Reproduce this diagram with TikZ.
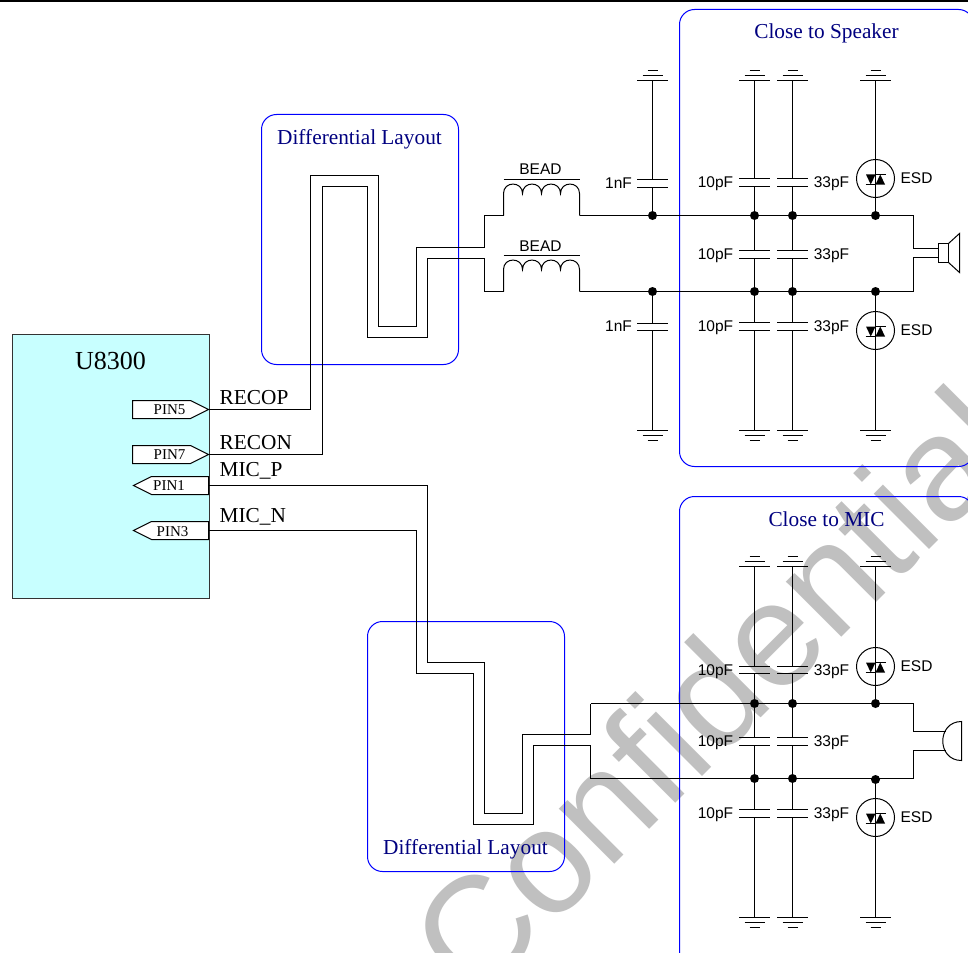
\documentclass[tikz,border=0pt]{standalone}
\usepackage{fontspec}
\setmainfont{Liberation Serif}
\newfontfamily\arialf{Liberation Sans}
\definecolor{navytext}{HTML}{000080}
\definecolor{chipfill}{HTML}{C8FFFF}
\definecolor{wmgray}{HTML}{C0C0C0}
\tikzset{
  wire/.style={draw=black,line width=1pt,line join=miter},
  zonebox/.style={draw=blue,line width=1pt,rounded corners=15pt},
  zonetext/.style={text=navytext,font=\fontsize{21.3}{21.3}\selectfont,inner sep=0pt},
  parttext/.style={text=black,font=\arialf\fontsize{15.5}{15.5}\selectfont,inner sep=0pt},
  nettext/.style={text=black,font=\fontsize{21.3}{21.3}\selectfont,inner sep=0pt,anchor=base west},
  pintext/.style={text=black,font=\fontsize{15}{15}\selectfont,inner sep=0pt},
  pinshape/.style={draw=black,fill=white,line width=1pt,line join=miter},
  junction/.style={circle,fill=black,inner sep=0pt,minimum size=9pt},
}
% plates of a capacitor: x, y1, y2
\newcommand{\capplates}[3]{\draw[wire] (#1-15.5,#2) -- (#1+15.5,#2) (#1-15.5,#3) -- (#1+15.5,#3);}
% ground symbol: x, y of long bar, direction of the shorter bars (+1 down, -1 up)
\newcommand{\gndsym}[3]{\draw[wire] (#1-15.5,#2) -- (#1+15.5,#2) (#1-10,#2+#3*5) -- (#1+10,#2+#3*5) (#1-5,#2+#3*10) -- (#1+5,#2+#3*10);}
% ESD: x, y centre
\newcommand{\esd}[2]{%
  \draw[wire] (#1,#2) circle (19pt);
  \fill[black] (#1-9.5,#2-4) -- (#1,#2-4) -- (#1-4.75,#2+6) -- cycle;
  \fill[black] (#1+9.5,#2+6) -- (#1,#2+6) -- (#1+4.75,#2-4) -- cycle;
  \draw[wire] (#1,#2-4) -- (#1+10,#2-4) (#1-10,#2+6) -- (#1,#2+6);}
% bead: y of bar, y of leg end
\newcommand{\bead}[2]{%
  \draw[wire] (503,#1) -- (579,#1);
  \draw[wire] (503,#2) -- (503,#1+14)
    .. controls (503,#1+1.4) and (522,#1+1.4) .. (522,#1+14)
    .. controls (522,#1+1.4) and (541,#1+1.4) .. (541,#1+14)
    .. controls (541,#1+1.4) and (560,#1+1.4) .. (560,#1+14)
    .. controls (560,#1+1.4) and (579,#1+1.4) .. (579,#1+14) -- (579,#2);}
\begin{document}
\begin{tikzpicture}[x=1pt,y=-1pt]
\useasboundingbox (0,0) rectangle (968,952);
\clip (0,0) rectangle (968,952);
\fill[white] (0,0) rectangle (968,952);
% watermark
\node[text=wmgray,font=\arialf\fontsize{148}{148}\selectfont,rotate=45,anchor=base west,inner sep=0pt] (wm) at (474,1005) {Confidential};
% top rule
\draw[black,line width=2.5pt] (0,1) -- (968,1);
\begin{scope}[xshift=0.5pt,yshift=-0.5pt]
% zones
\draw[zonebox] (261,114) rectangle (458,364);
\draw[zonebox] (367,621) rectangle (564,871);
\draw[zonebox] (679,9) rectangle (973,466);
\draw[zonebox] (679,496) rectangle (973,970);
\node[zonetext] (t1) at (359,139) {Differential Layout};
\node[zonetext] (t2) at (465,849) {Differential Layout};
\node[zonetext] (t3) at (826,33) {Close to Speaker};
\node[zonetext] (t4) at (826,519) {Close to MIC};
% chip
\node[draw=black!80,fill=chipfill,line width=1pt,minimum width=197pt,minimum height=264pt,inner sep=0pt] (chip) at (110,466) {};
\node[font=\fontsize{26}{26}\selectfont,inner sep=0pt] (chipname) at (110,360) {U8300};
% pins
\draw[pinshape] (132,400) -- (190,400) -- (208,409) -- (190,418) -- (132,418) -- cycle;
\draw[pinshape] (132,445) -- (190,445) -- (208,454) -- (190,463) -- (132,463) -- cycle;
\draw[pinshape] (208,476) -- (151,476) -- (133,485) -- (151,494) -- (208,494) -- cycle;
\draw[pinshape] (208,521) -- (151,521) -- (133,530) -- (151,539) -- (208,539) -- cycle;
\node[pintext] (pin5) at (169,409.5) {PIN5};
\node[pintext] (pin7) at (169,454.5) {PIN7};
\node[pintext] (pin1) at (168.5,485.5) {PIN1};
\node[pintext] (pin3) at (172,531) {PIN3};
\coordinate (p5) at (208,409);
\coordinate (p7) at (208,454);
\coordinate (p1) at (208,485);
\coordinate (p3) at (208,530);
\node[nettext] (recop) at (219,404) {RECOP};
\node[nettext] (recon) at (219,449) {RECON};
\node[nettext] (micp) at (219,476) {MIC\_P};
\node[nettext] (micn) at (219,522) {MIC\_N};
% differential wires
\coordinate (b1a) at (503,215);
\coordinate (b2a) at (503,291);
\coordinate (b1b) at (579,215);
\coordinate (b2b) at (579,291);
\draw[wire] (p5) -- (310,409) -- (310,175) -- (378,175) -- (378,326) -- (416,326) -- (416,247) -- (484,247) -- (484,215) -- (b1a);
\draw[wire] (p7) -- (322,454) -- (322,186) -- (367,186) -- (367,337) -- (427,337) -- (427,258) -- (484,258) -- (484,291) -- (b2a);
\draw[wire] (p1) -- (427,485) -- (427,662) -- (484,662) -- (484,813) -- (522,813) -- (522,734) -- (590,734) -- (590,703);
\draw[wire] (p3) -- (416,530) -- (416,673) -- (473,673) -- (473,824) -- (533,824) -- (533,745) -- (590,745) -- (590,778);
% beads
\bead{179}{215}
\bead{255}{291}
\node[parttext] (bead1) at (540,169) {BEAD};
\node[parttext] (bead2) at (540,245.5) {BEAD};
% speaker nets
\draw[wire] (b1b) -- (913,215) -- (913,248) -- (938,248);
\draw[wire] (b2b) -- (913,291) -- (913,257) -- (938,257);
\draw[wire] (938,243) rectangle (948,262);
\draw[wire] (948,243) -- (959,233) -- (959,272) -- (948,262);
% mic nets
\draw[wire] (590,703) -- (913,703) -- (913,731) -- (945,731);
\draw[wire] (590,778) -- (913,778) -- (913,750) -- (945,750);
\draw[wire] (961,721) .. controls (936,721) and (936,760) .. (961,760) -- cycle;
% 1nF
\draw[wire] (652,80) -- (652,179) (652,187) -- (652,215);
\capplates{652}{179}{187}\gndsym{652}{80}{-1}
\draw[wire] (652,291) -- (652,323) (652,330) -- (652,430);
\capplates{652}{323}{330}\gndsym{652}{430}{1}
\node[parttext] (n1) at (618,182.5) {1nF};
\node[parttext] (n2) at (618,326) {1nF};
% speaker capacitors
\foreach \x in {754,792}{
  \draw[wire] (\x,80) -- (\x,178) (\x,186) -- (\x,250) (\x,258) -- (\x,322) (\x,330) -- (\x,430);
  \capplates{\x}{178}{186}\capplates{\x}{250}{258}\capplates{\x}{322}{330}
  \gndsym{\x}{80}{-1}\gndsym{\x}{430}{1}
  \node[junction] at (\x,215) {};
  \node[junction] at (\x,291) {};
}
% mic capacitors
\foreach \x in {754,792}{
  \draw[wire] (\x,566) -- (\x,666) (\x,673) -- (\x,737) (\x,745) -- (\x,809) (\x,817) -- (\x,917);
  \capplates{\x}{666}{673}\capplates{\x}{737}{745}\capplates{\x}{809}{817}
  \gndsym{\x}{566}{-1}\gndsym{\x}{917}{1}
  \node[junction] at (\x,703) {};
  \node[junction] at (\x,778) {};
}
% ESD
\draw[wire] (875,80) -- (875,215) (875,291) -- (875,430);
\gndsym{875}{80}{-1}\gndsym{875}{430}{1}
\esd{875}{178}\esd{875}{330}
\draw[wire] (875,566) -- (875,703) (875,778) -- (875,917);
\gndsym{875}{566}{-1}\gndsym{875}{917}{1}
\esd{875}{666}\esd{875}{817}
\node[junction] (d1) at (652,215) {};
\node[junction] (d2) at (652,291) {};
\node[junction] (d3) at (875,215) {};
\node[junction] (d4) at (875,291) {};
\node[junction] (d5) at (875,703) {};
\node[junction] (d6) at (875,779) {};
% labels
\foreach \y/\n in {183/a,255/b,327/c,671/d,742.5/e,814/f}{
  \node[parttext] (ten\n) at (715,\y) {10pF};
  \node[parttext] (tt\n) at (831,\y) {33pF};
}
\foreach \y/\n in {177.5/a,329.5/b,665.5/c,816.5/d}{
  \node[parttext] (esd\n) at (916,\y) {ESD};
}
\end{scope}
\end{tikzpicture}
\end{document}
